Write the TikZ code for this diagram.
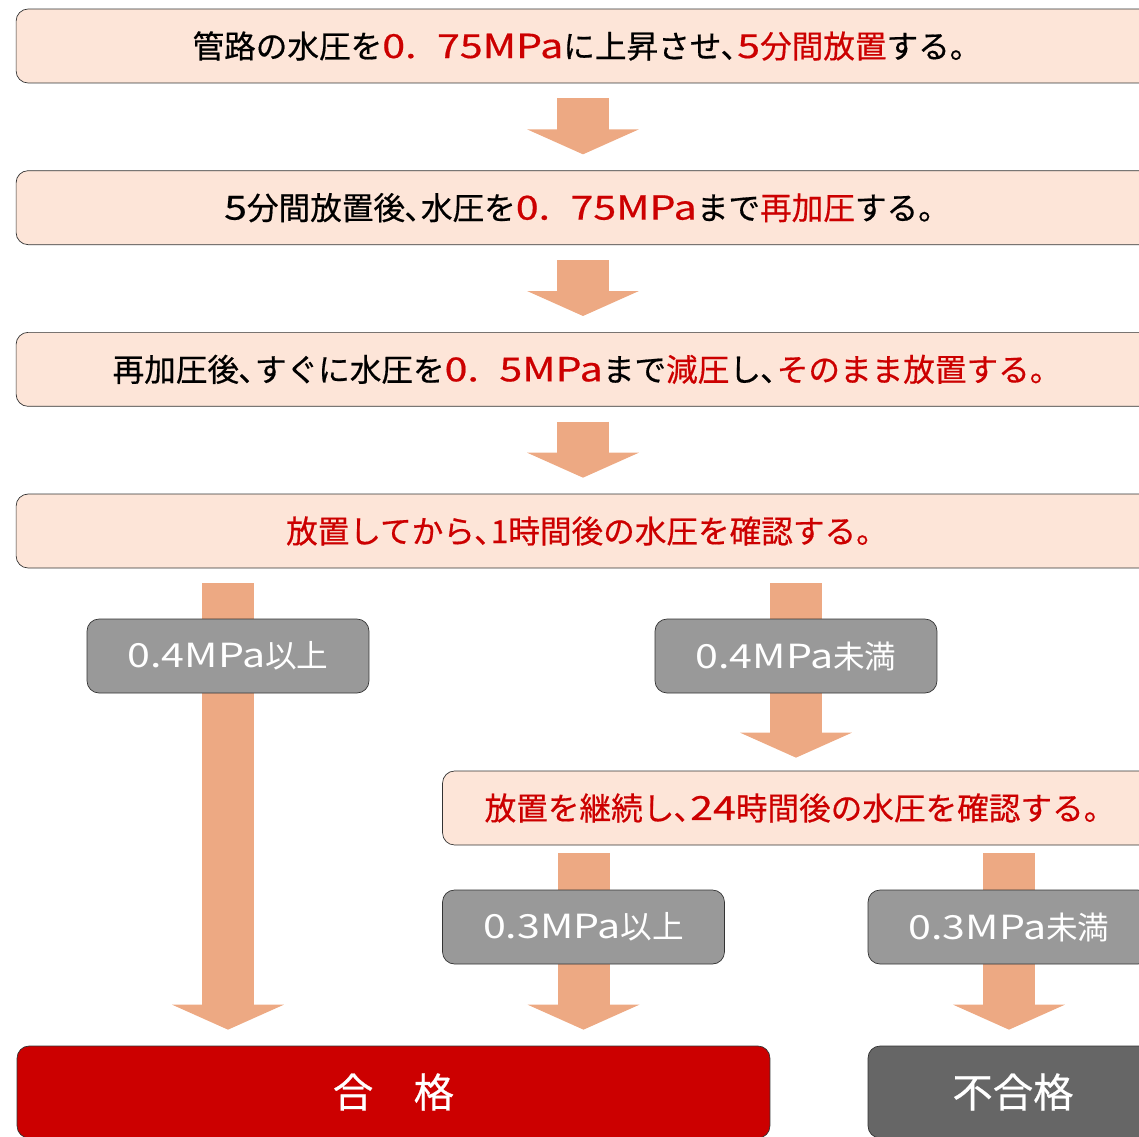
\documentclass[tikz,border=0pt]{standalone}
\usepackage{fontspec}
\setmainfont{Noto Sans CJK JP}[FakeBold=0.5]
\newfontfamily\labelfont{Noto Sans CJK JP}
\usepackage{xcolor}
\usepackage{tikz}
\usetikzlibrary{arrows.meta,positioning,calc,backgrounds}
\definecolor{stepfill}{RGB}{253,229,216}
\definecolor{flowc}{RGB}{237,169,131}
\definecolor{warnred}{RGB}{204,0,0}
\definecolor{condgrey}{RGB}{153,153,153}
\definecolor{failgrey}{RGB}{102,102,102}
\newcommand{\emred}[1]{\textcolor{warnred}{#1}}
\newcommand{\wide}[1]{\scalebox{1.3}[1.05]{#1}}

\begin{document}
\begin{tikzpicture}[
  x=0.02cm, y=-0.02cm,
  every node/.style={font=\fontsize{18}{20}\selectfont},
  stepbox/.style={draw=black!80, rounded corners=0.24cm, fill=stepfill, minimum width=22.84cm, minimum height=1.48cm, inner sep=0pt},
  condbox/.style={draw=black!80, rounded corners=0.24cm, fill=condgrey, text=white, minimum width=5.64cm, minimum height=1.48cm, inner sep=0pt, font=\labelfont\fontsize{18}{20}\selectfont},
  resultbox/.style={draw=black!80, rounded corners=0.24cm, text=white, minimum height=1.84cm, inner sep=0pt, font=\fontsize{23}{26}\selectfont},
  flow/.style={flowc, line width=1.04cm, -{Triangle[length=0.5cm, width=2.22cm]}},
]
  \clip (0,0) rectangle (1139,1136);

  % Steps
  \node[stepbox] (b1) at (587,46)
    {管路の水圧を\emred{\wide{0.\hspace{0.5em}75MPa}}に上昇させ､\emred{\wide{5}分間放置}する。};
  \node[stepbox, below=1.74cm of b1] (b2)
    {\wide{5}分間放置後､水圧を\emred{\wide{0.\hspace{0.5em}75MPa}}まで\emred{再加圧}する。};
  \node[stepbox, below=1.74cm of b2] (b3)
    {再加圧後､すぐに水圧を\emred{\wide{0.\hspace{0.5em}5MPa}}まで\emred{減圧}し､\emred{そのまま放置する。}};
  \node[stepbox, below=1.74cm of b3] (b4)
    {\emred{放置してから､1時間後の水圧を確認する。}};

  % Check after 1 hour
  \node[condbox] (g1) at (228,656) {\wide{0.4MPa}以上};
  \node[condbox] (g2) at (796,656) {\wide{0.4MPa}未満};

  % Keep waiting
  \node[stepbox, minimum width=14.3cm] (b5) at (800,808)
    {\emred{放置を継続し､\wide{24}時間後の水圧を確認する。}};

  % Check after 24 hours
  \node[condbox] (g3) at (583.5,927) {\wide{0.3MPa}以上};
  \node[condbox] (g4) at (1009,927) {\wide{0.3MPa}未満};

  % Results
  \node[resultbox, fill=warnred, minimum width=15.06cm] (pass) at (393.5,1092) {合　格};
  \node[resultbox, fill=failgrey, minimum width=5.8cm] (fail) at (1013,1092) {不合格};

  % Arrows
  \begin{scope}[on background layer]
    \draw[flow] ($(b1.south)+(-4,15)$) -- ($(b2.north)+(-4,-16)$);
    \draw[flow] ($(b2.south)+(-4,15)$) -- ($(b3.north)+(-4,-16)$);
    \draw[flow] ($(b3.south)+(-4,15)$) -- ($(b4.north)+(-4,-16)$);
    \draw[flow] ($(g1|-b4.south)+(0,15)$) -- ($(g1|-pass.north)+(0,-16)$);
    \draw[flow] ($(g2|-b4.south)+(0,15)$) -- ($(g2|-b5.north)+(0,-13)$);
    \draw[flow] ($(g3|-b5.south)+(0,8)$) -- ($(g3|-pass.north)+(0,-16)$);
    \draw[flow] ($(g4|-b5.south)+(0,8)$) -- ($(g4|-fail.north)+(0,-16)$);
  \end{scope}
\end{tikzpicture}
\end{document}
